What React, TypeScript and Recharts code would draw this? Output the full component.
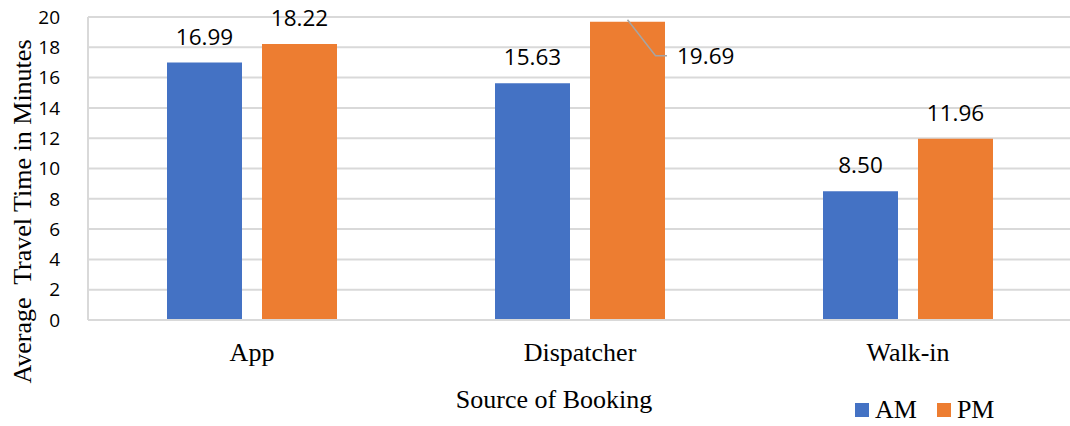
import { Bar, BarChart, CartesianGrid, LabelList, XAxis, YAxis } from "recharts";

const categories = ["App", "Dispatcher", "Walk-in"];
const amValues = [16.99, 15.63, 8.5];
const pmValues = [18.22, 19.69, 11.96];
const yTicks = [0, 2, 4, 6, 8, 10, 12, 14, 16, 18, 20];
const seriesColors = { AM: "#4472C4", PM: "#ED7D31" };

const chartData = categories.map((source, i) => ({
  source,
  AM: amValues[i],
  PM: pmValues[i],
}));

const serif = "'Liberation Serif', 'Times New Roman', serif";
const sans = "'Open Sans', 'Liberation Sans', sans-serif";

function ValueLabel(props: any) {
  const { x, y, width, value } = props;
  const text = Number(value).toFixed(2);
  const cx = x + width / 2;
  // no room above the bar: put the label beside it with a leader line
  if (y < 34) {
    const ly = y + 34;
    const right = x + width;
    return (
      <g>
        <polyline
          points={`${cx},${y - 2} ${cx + 28},${ly} ${right + 2},${ly}`}
          fill="none"
          stroke="#A5A5A5"
          strokeWidth={1.5}
        />
        <text x={right + 12} y={ly} dy="0.36em" fontFamily={sans} fontSize={22.5} fill="#000">
          {text}
        </text>
      </g>
    );
  }
  return (
    <text x={cx} y={y - 18} textAnchor="middle" fontFamily={sans} fontSize={22.5} fill="#000">
      {text}
    </text>
  );
}

function CategoryTick(props: any) {
  const { x, y, payload } = props;
  return (
    <text x={x} y={y + 33} textAnchor="middle" fontFamily={serif} fontSize={26} fill="#000">
      {payload.value}
    </text>
  );
}

function YTitle(props: any) {
  const { viewBox } = props;
  const cx = viewBox.x + 22;
  const cy = viewBox.y + viewBox.height / 2 + 43;
  return (
    <text
      transform={`translate(${cx}, ${cy}) rotate(-90)`}
      textAnchor="middle"
      dy="0.35em"
      fontFamily={serif}
      fontSize={26}
      fill="#000"
      style={{ whiteSpace: "pre" }}
    >
      Average  Travel Time in Minutes
    </text>
  );
}

export default function App() {
  return (
    <div style={{ position: "absolute", left: 0, top: 0, width: 1070, height: 426, overflow: "hidden", background: "#fff" }}>
      <BarChart
        width={1080}
        height={426}
        data={chartData}
        margin={{ top: 17, right: 8, bottom: 0, left: 0 }}
        barSize={75}
        barGap={20}
      >
        <CartesianGrid stroke="#D9D9D9" strokeWidth={2} vertical={false} />
        <XAxis
          dataKey="source"
          height={106}
          tick={<CategoryTick />}
          tickLine={false}
          axisLine={{ stroke: "#D9D9D9", strokeWidth: 2 }}
          label={{
            value: "Source of Booking",
            position: "insideTop",
            offset: 70,
            dx: -26,
            fontFamily: serif,
            fontSize: 26,
            fill: "#000",
          }}
        />
        <YAxis
          width={88}
          domain={[0, 20]}
          ticks={yTicks}
          tickLine={false}
          axisLine={{ stroke: "#D9D9D9", strokeWidth: 2 }}
          tickMargin={22}
          tick={{ fontFamily: sans, fontSize: 19, fill: "#000" }}
          label={{ content: <YTitle /> }}
        />
        <Bar dataKey="AM" fill={seriesColors.AM} isAnimationActive={false}>
          <LabelList dataKey="AM" content={<ValueLabel />} />
        </Bar>
        <Bar dataKey="PM" fill={seriesColors.PM} isAnimationActive={false}>
          <LabelList dataKey="PM" content={<ValueLabel />} />
        </Bar>
      </BarChart>
      <div style={{ position: "absolute", left: 855, top: 397, display: "flex", alignItems: "center", gap: 20 }}>
        {Object.entries(seriesColors).map(([name, color]) => (
          <span key={name} style={{ display: "flex", alignItems: "center", gap: 6 }}>
            <span style={{ width: 14, height: 14, background: color, display: "inline-block" }} />
            <span style={{ fontFamily: serif, fontSize: 26, color: "#000", lineHeight: "26px" }}>{name}</span>
          </span>
        ))}
      </div>
    </div>
  );
}
